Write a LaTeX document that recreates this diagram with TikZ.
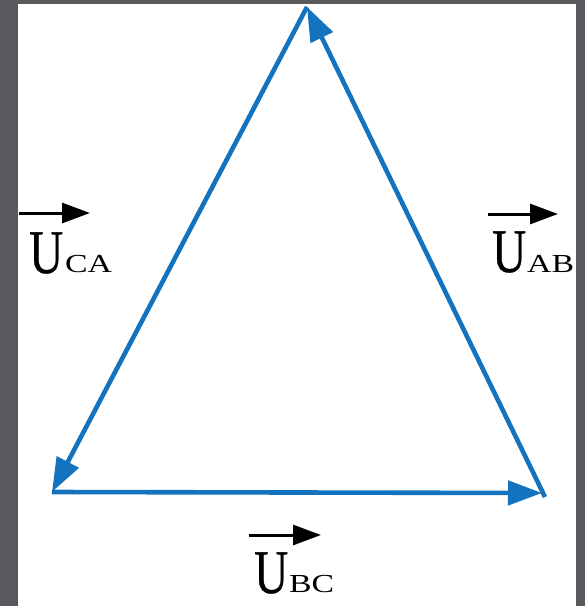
\documentclass[tikz,border=0pt]{standalone}
\usepackage{fontspec}
\usepackage{graphicx}
\setmainfont{Liberation Serif}
\newfontfamily\boldish[FakeBold=0.6]{Liberation Serif}
\usetikzlibrary{arrows.meta}
\definecolor{bggray}{RGB}{91,88,93}
\definecolor{vecblue}{RGB}{20,115,190}
\tikzset{
  edge/.style={draw=vecblue, line width=4.6pt, -{Triangle[length=34pt,width=24pt]}},
  labarrow/.style={draw=black, line width=3pt, -{Triangle[length=28pt,width=20pt]}},
  bigU/.style={inner sep=0pt, anchor=base west, font=\boldish\fontsize{62}{62}\selectfont},
  subtxt/.style={inner sep=0pt, anchor=base west, font=\fontsize{26}{26}\selectfont}
}
\newcommand{\Ubig}{\scalebox{0.76}[1]{U}}
\newcommand{\Sub}[1]{\scalebox{1.3}[1]{#1}}
\begin{document}
\begin{tikzpicture}[x=1pt,y=-1pt]
  \useasboundingbox (0,0) rectangle (585,606);
  \fill[bggray] (0,0) rectangle (585,606);
  \fill[white] (18,4) rectangle (576,606);
  % vertices
  \coordinate (T) at (307,7);
  \coordinate (L) at (52,492);
  \coordinate (R) at (545,497);
  \coordinate (Rb) at (542,493);
  % triangle edges
  \draw[edge] (R) -- (T);
  \draw[edge] (T) -- (L);
  \draw[edge] (L) -- (Rb);
  % labels
  \node[bigU] (uca) at (29,273) {\Ubig};
  \node[subtxt] (ca) at (65,272) {\Sub{CA}};
  \coordinate (caS) at (19,213);
  \coordinate (caE) at (90,213);
  \draw[labarrow] (caS) -- (caE);
  \node[bigU] (uab) at (492,272) {\Ubig};
  \node[subtxt] (ab) at (527,272) {\Sub{AB}};
  \coordinate (abS) at (488,214);
  \coordinate (abE) at (558,214);
  \draw[labarrow] (abS) -- (abE);
  \node[bigU] (ubc) at (254,593) {\Ubig};
  \node[subtxt] (bc) at (289,592) {\Sub{BC}};
  \coordinate (bcS) at (249,535);
  \coordinate (bcE) at (321,535);
  \draw[labarrow] (bcS) -- (bcE);
\end{tikzpicture}
\end{document}
